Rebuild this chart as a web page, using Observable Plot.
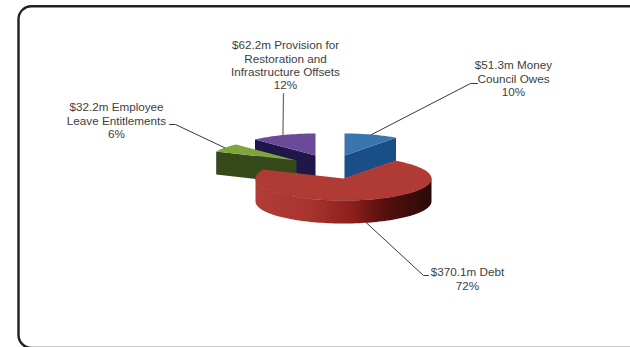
<!DOCTYPE html>
<html>
<head>
<meta charset="utf-8">
<style>
  html, body { margin: 0; padding: 0; background: #fff; overflow: hidden; }
  svg { display: block; }
</style>
<script src="https://cdn.jsdelivr.net/npm/d3@7"></script>
<script src="https://cdn.jsdelivr.net/npm/@observablehq/plot@0.6"></script>
</head>
<body>
<div id="chart"></div>
<script>
// Council liabilities, in $ millions, clockwise from twelve o'clock.
const names = ["Money\nCouncil Owes", "Debt", "Employee\nLeave Entitlements", "Provision for\nRestoration and\nInfrastructure Offsets"];
const amounts = [51.3, 370.1, 32.2, 62.2];

// Slice appearance: lit top face and shaded side face.
const topColors = ["#3a75b0", "#b03b35", "#7fa63c", "#6b4b99"];
const sideColors = ["#1a4e86", "url(#rimShade)", "#36491b", "#1f1649"];

// Where each exploded slice has its tip, and the order the slices are painted in.
const tipX = [344, 343, 296, 315];
const tipY = [155, 178, 160, 155];
const paintOrder = [3, 2, 0, 1];

// Label placement: text centre, top of the first line and the leader's elbow.
const labelX = [513, 467, 116, 285];
const labelY = [59, 266, 101, 39];
const elbows = [[[470, 83], [477, 83]], [[423, 275], [428, 275]], [[175, 124], [169, 124]], [[283, 93]]];

// Pie projection: tilted ellipse plus extruded thickness.
const radiusX = 88, radiusY = 22, depth = 23;

const total = d3.sum(amounts);
const toRad = Math.PI / 180;
let running = 0;
const slices = amounts.map((v, i) => {
  const start = running / total * 360;
  running += v;
  const end = running / total * 360;
  return {i, start, end, mid: (start + end) / 2};
});

const project = (i, angle, drop = 0) => ({
  x: tipX[i] + radiusX * Math.sin(angle * toRad),
  y: tipY[i] - radiusY * Math.cos(angle * toRad) + drop
});
const arcPoints = (i, a, b, drop = 0) => {
  const n = Math.max(2, Math.ceil(Math.abs(b - a) / 2));
  return d3.range(n + 1).map(k => project(i, a + (b - a) * k / n, drop));
};
const tip = (i, drop = 0) => ({x: tipX[i], y: tipY[i] + drop});

const polygon = (points, fill) =>
  Plot.line([...points, points[0]], {x: "x", y: "y", fill, stroke: "none", curve: "linear"});

function sliceMarks({i, start, end}) {
  const marks = [];
  // Radial faces that turn towards the viewer.
  if (Math.sin(start * toRad) < -1e-6) {
    marks.push(polygon([tip(i), project(i, start), project(i, start, depth), tip(i, depth)], sideColors[i]));
  }
  if (Math.sin(end * toRad) > 1e-6) {
    marks.push(polygon([tip(i), project(i, end), project(i, end, depth), tip(i, depth)], sideColors[i]));
  }
  // Outer wall on the front half of the ellipse.
  const a = Math.max(start, 90), b = Math.min(end, 270);
  if (a < b) {
    marks.push(polygon([...arcPoints(i, a, b), ...arcPoints(i, b, a, depth)], sideColors[i]));
  }
  // Top face.
  marks.push(polygon([tip(i), ...arcPoints(i, start, end)], topColors[i]));
  if (a < b) {
    marks.push(Plot.line(arcPoints(i, a, b), {x: "x", y: "y", stroke: "#7d2622", strokeWidth: 0.7, strokeOpacity: 0.6}));
  }
  return marks;
}

// Leaders start on the slice edge at its mid angle; the bottom-facing one starts on the wall.
const leaders = slices.map(({i, mid}) => {
  const front = mid > 90 && mid < 270;
  const from = project(i, mid, front ? depth : 0);
  return [from, ...elbows[i].map(([x, y]) => ({x, y}))];
});

const captions = slices.map(({i}) => ({
  x: labelX[i],
  y: labelY[i],
  text: `$${amounts[i].toFixed(1)}m ${names[i]}\n${Math.round(amounts[i] / total * 100)}%`
}));

// Horizontal shading of the large slice's wall.
const shadingDefs = () => {
  const defs = d3.create("svg:defs");
  const gradient = defs.append("linearGradient")
    .attr("id", "rimShade")
    .attr("gradientUnits", "objectBoundingBox")
    .attr("x1", 0).attr("x2", 1).attr("y1", 0).attr("y2", 0);
  [[0, "#b23c36"], [0.3, "#a9342f"], [0.55, "#8c1f1c"], [0.72, "#5a100e"], [0.88, "#3c0d0a"], [1, "#2c0a08"]]
    .forEach(([o, c]) => gradient.append("stop").attr("offset", o).attr("stop-color", c));
  return defs.node();
};

const plot = Plot.plot({
  width: 630,
  height: 347,
  margin: 0,
  style: {background: "#fff", fontFamily: "'Liberation Sans', Arial, sans-serif"},
  x: {domain: [0, 630], range: [0, 630], axis: null},
  y: {domain: [0, 347], range: [0, 347], axis: null},
  marks: [
    shadingDefs,
    // Card outline: its right and bottom edges run off the page.
    Plot.frame({insetLeft: 18, insetTop: 5.7, insetRight: -20, insetBottom: -0.5, rx: 13, stroke: "#231f20", strokeWidth: 2.4}),
    ...paintOrder.flatMap(i => sliceMarks(slices[i])),
    ...leaders.map((points, i) => Plot.line(points, {
      x: "x", y: "y", stroke: i === 3 ? "#666" : "#222", strokeWidth: i === 3 ? 1.2 : 0.9, curve: "linear"
    })),
    Plot.text(captions, {
      x: "x", y: "y", text: "text",
      textAnchor: "middle", lineAnchor: "top",
      fontSize: 11.7, lineHeight: 1.15, fill: "#404040"
    })
  ]
});

document.getElementById("chart").append(plot);
</script>
</body>
</html>
